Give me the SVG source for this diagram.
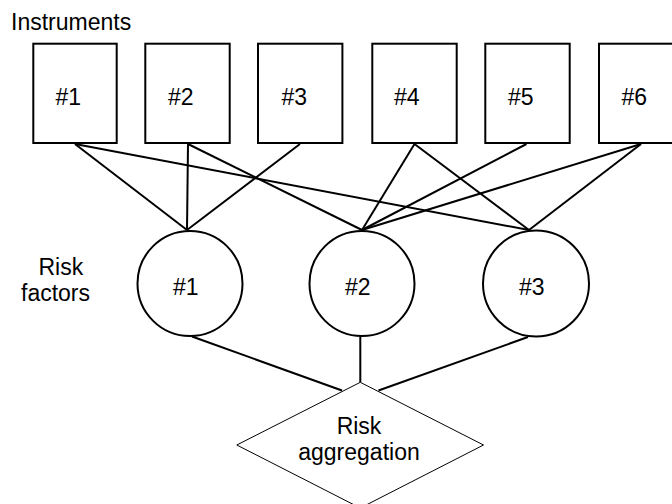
<svg xmlns="http://www.w3.org/2000/svg" width="672" height="504" viewBox="0 0 672 504">
<style>
text{font-family:"Liberation Sans",Arial,sans-serif;font-size:23px;fill:#000}
.box{fill:#fff;stroke:#000;stroke-width:2}
.rf{fill:#fff;stroke:#000;stroke-width:2}
.agg{fill:#fff;stroke:#000;stroke-width:1}
.edge{stroke:#000;stroke-width:2;fill:none}
</style>
<rect width="672" height="504" fill="#fff"/>
<text x="11" y="29.5">Instruments</text>
<g id="rf-label"><text x="38.5" y="275">Risk</text><text x="21" y="300.5">factors</text></g>
<g id="connectors">
<line class="edge" x1="75" y1="144" x2="187" y2="230"/>
<line class="edge" x1="75" y1="144" x2="529" y2="230"/>
<line class="edge" x1="188" y1="144" x2="187" y2="230"/>
<line class="edge" x1="188" y1="144" x2="362" y2="230"/>
<line class="edge" x1="300" y1="144" x2="187" y2="230"/>
<line class="edge" x1="414.5" y1="144" x2="362" y2="230"/>
<line class="edge" x1="414.5" y1="144" x2="529" y2="230"/>
<line class="edge" x1="526.5" y1="144" x2="362" y2="230"/>
<line class="edge" x1="641" y1="144" x2="362" y2="230"/>
<line class="edge" x1="641" y1="144" x2="529" y2="230"/>
<line class="edge" x1="192" y1="336.5" x2="342" y2="390.5"/>
<line class="edge" x1="360.3" y1="336.5" x2="360.3" y2="382.5"/>
<line class="edge" x1="528" y1="337" x2="378.5" y2="390.5"/>
</g>
<g id="inst1"><rect class="box" x="33.3" y="43.7" width="83.4" height="99.3"/><text x="55.5" y="105">#1</text></g>
<g id="inst2"><rect class="box" x="145.3" y="43.7" width="84.4" height="99.3"/><text x="168" y="105">#2</text></g>
<g id="inst3"><rect class="box" x="258" y="43.7" width="84.4" height="99.3"/><text x="281.5" y="105">#3</text></g>
<g id="inst4"><rect class="box" x="372.3" y="43.7" width="84.4" height="99.3"/><text x="394" y="105">#4</text></g>
<g id="inst5"><rect class="box" x="485.3" y="43.7" width="84.4" height="99.3"/><text x="508" y="105">#5</text></g>
<g id="inst6"><rect class="box" x="599" y="43.7" width="84.4" height="99.3"/><text x="621.5" y="105">#6</text></g>
<g id="rf1"><ellipse class="rf" cx="190" cy="283.5" rx="52.5" ry="52.5"/><text x="173" y="295">#1</text></g>
<g id="rf2"><ellipse class="rf" cx="362" cy="283.5" rx="52.5" ry="52.5"/><text x="345" y="295">#2</text></g>
<g id="rf3"><ellipse class="rf" cx="536" cy="283.5" rx="53" ry="53"/><text x="519" y="295">#3</text></g>
<g id="agg"><polygon class="agg" points="360.3,382.3 483.5,445 360.3,508 236.8,445"/>
<text x="359" y="433.5" text-anchor="middle">Risk</text>
<text x="359" y="460" text-anchor="middle">aggregation</text></g>
</svg>
